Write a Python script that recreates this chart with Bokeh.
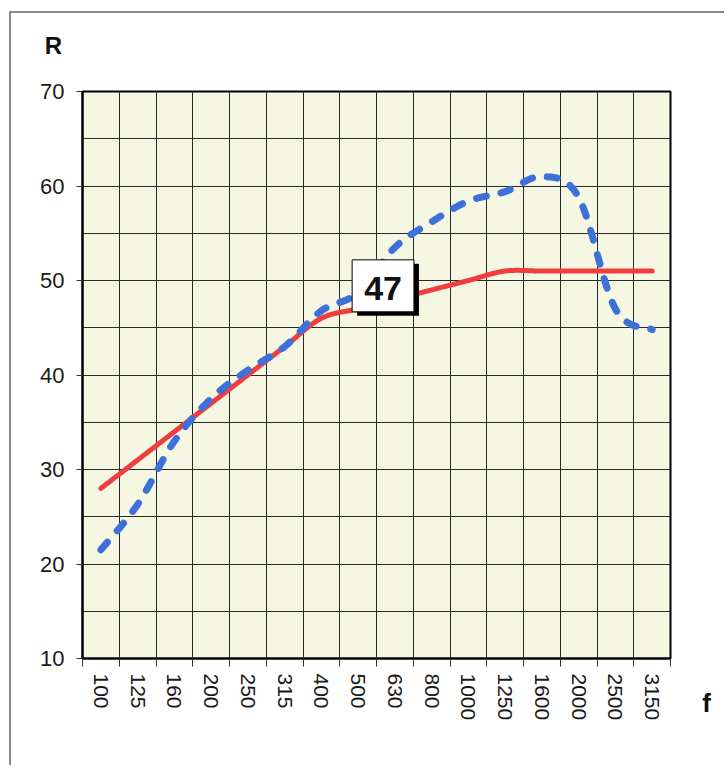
import numpy as np
from bokeh.plotting import figure
from bokeh.models import Range1d, FixedTicker, Label, Column
from bokeh.embed import file_html
from bokeh.resources import INLINE

# ---- data ----
freqs = ["100", "125", "160", "200", "250", "315", "400", "500",
         "630", "800", "1000", "1250", "1600", "2000", "2500", "3150"]
reference_curve = [28, 31, 34, 37, 40, 43, 46, 47, 48, 49, 50, 51, 51, 51, 51, 51]
measured = [21.5, 26.3, 33.0, 37.5, 40.5, 43.0, 46.8, 48.7,
            53.5, 56.2, 58.4, 59.4, 61.0, 58.8, 47.0, 44.8]
rw_value = 47
rw_index = freqs.index("500")
y_ticks = [10, 20, 30, 40, 50, 60, 70]
y_grid = [10, 15, 20, 25, 30, 35, 40, 45, 50, 55, 60, 65, 70]

FONT = "Liberation Sans"
W, H = 713, 752


def smooth(xs, ys, n=24):
    """Excel-like smoothed line (cubic Bezier through the points)."""
    pts = list(zip(xs, ys))
    ox, oy = [], []
    for i in range(len(pts) - 1):
        p0 = pts[i - 1] if i > 0 else pts[i]
        p1 = pts[i]
        p2 = pts[i + 1]
        p3 = pts[i + 2] if i + 2 < len(pts) else pts[i + 1]
        c1 = (p1[0] + (p2[0] - p0[0]) / 6, p1[1] + (p2[1] - p0[1]) / 6)
        c2 = (p2[0] - (p3[0] - p1[0]) / 6, p2[1] - (p3[1] - p1[1]) / 6)
        for t in np.linspace(0, 1, n, endpoint=False):
            a = (1 - t) ** 3
            b = 3 * (1 - t) ** 2 * t
            c = 3 * (1 - t) * t ** 2
            d = t ** 3
            ox.append(a * p1[0] + b * c1[0] + c * c2[0] + d * p2[0])
            oy.append(a * p1[1] + b * c1[1] + c * c2[1] + d * p2[1])
    ox.append(pts[-1][0])
    oy.append(pts[-1][1])
    return ox, oy


n = len(freqs)
xc = [i + 0.5 for i in range(n)]

p = figure(width=W, height=H, output_backend="svg", toolbar_location=None,
           x_range=Range1d(0, n), y_range=Range1d(10, 70),
           min_border_left=71, min_border_top=78, min_border_right=54,
           min_border_bottom=107)
p.background_fill_color = "#F5F7E2"
p.border_fill_color = "white"
p.outline_line_color = "black"
p.outline_line_width = 2

# grids
p.xgrid.ticker = FixedTicker(ticks=list(range(0, n + 1)))
p.ygrid.ticker = FixedTicker(ticks=y_grid)
for g in (p.xgrid, p.ygrid):
    g.grid_line_color = "#2a2a2a"
    g.grid_line_width = 1

# x axis: labels at centers, ticks at boundaries
xa = p.xaxis[0]
xa.ticker = FixedTicker(ticks=xc, minor_ticks=list(range(0, n + 1)))
xa.major_label_overrides = {x: f for x, f in zip(xc, freqs)}
xa.major_label_orientation = "vertical"
xa.major_tick_line_color = None
xa.major_tick_out = 8
xa.major_tick_in = 0
xa.minor_tick_line_color = "#333333"
xa.minor_tick_out = 8
xa.minor_tick_in = 0
xa.major_label_standoff = 7
xa.axis_line_color = "black"
xa.axis_line_width = 2

ya = p.yaxis[0]
ya.ticker = FixedTicker(ticks=y_ticks)
ya.major_tick_out = 6
ya.major_tick_in = 0
ya.major_tick_line_color = "#333333"
ya.minor_tick_line_color = None
ya.major_label_standoff = 12
ya.axis_line_color = "black"
ya.axis_line_width = 2

for ax in (xa, ya):
    ax.major_label_text_font = FONT
    ax.major_label_text_color = "#1a1a1a"
ya.major_label_text_font_size = "22px"
xa.major_label_text_font_size = "21px"

# lines
rx, ry = smooth(xc, reference_curve)
p.line(rx, ry, line_color="#F03E3E", line_width=5, line_cap="round", line_join="round")
mx, my = smooth(xc, measured)
p.line(mx, my, line_color="#3D70D8", line_width=7, line_dash="10 15",
       line_cap="round", line_join="round")

# highlighted point
p.scatter([xc[rw_index]], [rw_value], size=7, marker="square", color="#F2B21C")

# Rw data label with drop shadow
pad = dict(left=12, right=12, top=17, bottom=12)
bx_off, by_off = -6, -3
shadow = Label(x=xc[rw_index], y=rw_value, x_offset=bx_off + 5, y_offset=by_off - 4,
               text=str(rw_value),
               text_font=FONT, text_font_size="34px", text_font_style="bold",
               text_color="black", background_fill_color="black", padding=pad,
               text_align="left", text_baseline="bottom")
box = Label(x=xc[rw_index], y=rw_value, x_offset=bx_off, y_offset=by_off,
            text=str(rw_value),
            text_font=FONT, text_font_size="34px", text_font_style="bold",
            text_color="#111111", background_fill_color="white",
            border_line_color="black", border_line_width=1, padding=pad,
            text_align="left", text_baseline="bottom")
p.add_layout(shadow)
p.add_layout(box)

# axis titles, placed in side panels so that they are not clipped to the frame
r_label = Label(x=0, y=70, x_offset=-29, y_offset=46, text="R",
                text_font=FONT, text_font_size="24px", text_font_style="bold",
                text_color="#111111", text_align="center", text_baseline="middle")
f_label = Label(x=n, y=10, x_offset=36, y_offset=-44, text="f",
                text_font=FONT, text_font_size="26px", text_font_style="bold",
                text_color="#111111", text_align="center", text_baseline="middle")
p.add_layout(r_label, "above")
p.add_layout(f_label, "right")

layout = Column(p, styles={"border-left": "2px solid #8a8a8a",
                           "border-top": "2px solid #8a8a8a"},
                margin=(11, 0, 0, 9))

open("out.html", "w").write(file_html(layout, INLINE))
